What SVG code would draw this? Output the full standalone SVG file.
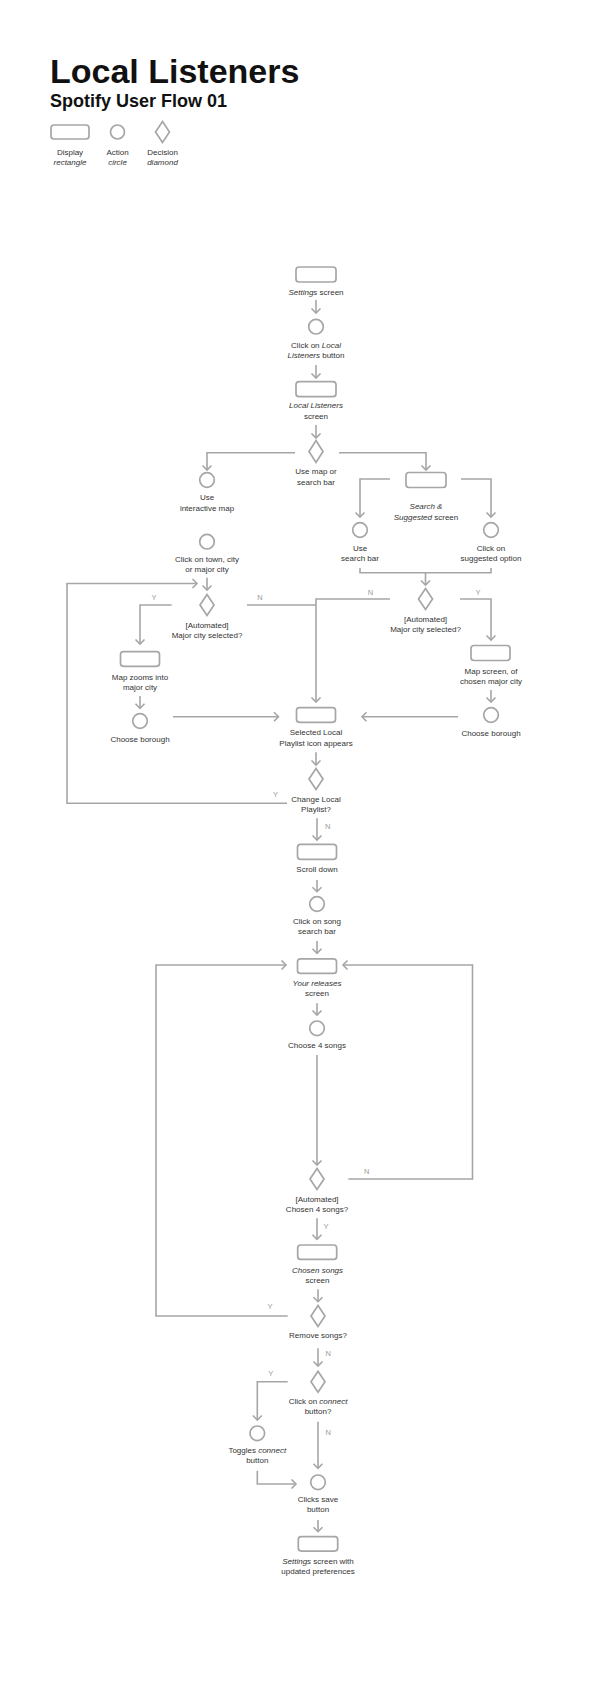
<svg xmlns="http://www.w3.org/2000/svg" width="594" height="1702" viewBox="0 0 594 1702">
<style>
text{font-family:"Liberation Sans",Arial,Helvetica,sans-serif;font-size:8px;fill:#333;text-anchor:middle}
.i{font-style:italic}
.lbl{font-size:7.5px;fill:#9a9a9a}
.title{font-size:34px;font-weight:bold;fill:#111;text-anchor:start}
.sub{font-size:18px;font-weight:bold;fill:#111;text-anchor:start}
.sh{fill:none;stroke:#a6a6a6;stroke-width:1.7}
.c{fill:none;stroke:#a6a6a6;stroke-width:1.6}
.a{marker-end:url(#ah)}
</style>
<defs>
<marker id="ah" viewBox="-6 -6 8 12" markerWidth="8" markerHeight="12" refX="0" refY="0" orient="auto" markerUnits="userSpaceOnUse">
<path d="M-4.5,-4.5 L0,0 L-4.5,4.5" fill="none" stroke="#a6a6a6" stroke-width="1.6"/>
</marker>
</defs>
<rect width="594" height="1702" fill="#fff"/>

<g id="header">
<text class="title" x="50" y="83">Local Listeners</text>
<text class="sub" x="50" y="107">Spotify User Flow 01</text>
</g>
<g id="legend">
<rect class="sh" x="51" y="125" width="38" height="14" rx="3"/>
<circle class="sh" cx="117.5" cy="132" r="7"/>
<polygon class="sh" points="162.5,121.5 169.5,132 162.5,142.5 155.5,132"/>
<text x="70" y="155">Display</text><text class="i" x="70" y="165">rectangle</text>
<text x="117.5" y="155">Action</text><text class="i" x="117.5" y="165">circle</text>
<text x="162.5" y="155">Decision</text><text class="i" x="162.5" y="165">diamond</text>
</g>

<g id="connectors">
<path class="c a" d="M316,300 V313"/>
<path class="c a" d="M316,365 V378"/>
<path class="c a" d="M316,425 V438"/>
<path class="c a" d="M295,452.7 H207 V470"/>
<path class="c a" d="M339,452.7 H426 V470"/>
<path class="c a" d="M390,479 H360 V517"/>
<path class="c a" d="M461,479 H491 V517"/>
<path class="c" d="M360,568 V572.7 H491 V568"/>
<path class="c a" d="M425.5,572.7 V585"/>
<path class="c a" d="M390,599 H316 V702"/>
<path class="c a" d="M460,599 H491 V640"/>
<path class="c a" d="M491,690 V702"/>
<path class="c a" d="M458,716.7 H362"/>
<path class="c a" d="M207,577.7 V590"/>
<path class="c a" d="M287,803.3 H67 V583.5 H197"/>
<path class="c a" d="M171.7,605 H140 V644"/>
<path class="c" d="M247,605 H316"/>
<path class="c a" d="M140,696 V708.3"/>
<path class="c a" d="M173,716.7 H278.5"/>
<path class="c a" d="M316,752.3 V765"/>
<path class="c a" d="M317,818.3 V840"/>
<path class="c a" d="M317,880 V891.7"/>
<path class="c a" d="M317,941 V953.3"/>
<path class="c a" d="M287.7,1316 H156 V965 H286"/>
<path class="c a" d="M348.3,1179 H472.5 V965 H343"/>
<path class="c a" d="M317,1003.3 V1015"/>
<path class="c a" d="M317,1055 V1165"/>
<path class="c a" d="M317,1218.3 V1239.3"/>
<path class="c a" d="M318,1289.3 V1301.7"/>
<path class="c a" d="M318,1348.3 V1366"/>
<path class="c a" d="M287.7,1381.7 H257.3 V1420"/>
<path class="c a" d="M318,1421.7 V1468.3"/>
<path class="c a" d="M257.3,1470.7 V1484 H296"/>
<path class="c a" d="M318,1520 V1531.7"/>
<text class="lbl" x="370.5" y="595">N</text>
<text class="lbl" x="478" y="595">Y</text>
<text class="lbl" x="154" y="600">Y</text>
<text class="lbl" x="260" y="600">N</text>
<text class="lbl" x="275.4" y="797.3">Y</text>
<text class="lbl" x="327.7" y="829.3">N</text>
<text class="lbl" x="366.7" y="1174.3">N</text>
<text class="lbl" x="326" y="1229.3">Y</text>
<text class="lbl" x="270" y="1309.3">Y</text>
<text class="lbl" x="328.3" y="1356">N</text>
<text class="lbl" x="270.7" y="1376">Y</text>
<text class="lbl" x="328.3" y="1435">N</text>
</g>

<g id="settings-screen">
<rect class="sh" x="296" y="267" width="40" height="15" rx="3"/>
<text x="316" y="295"><tspan class="i">Settings</tspan> screen</text>
</g>
<g id="click-local-listeners">
<circle class="sh" cx="316" cy="326.7" r="7.3"/>
<text x="316" y="347.7">Click on <tspan class="i">Local</tspan></text>
<text x="316" y="358"><tspan class="i">Listeners</tspan> button</text>
</g>
<g id="local-listeners-screen">
<rect class="sh" x="296" y="381.7" width="40" height="15" rx="3"/>
<text class="i" x="316" y="408.3">Local Listeners</text>
<text x="316" y="418.5">screen</text>
</g>
<g id="use-map-or-search">
<polygon class="sh" points="316,440.5 323,451.5 316,462.5 309,451.5"/>
<text x="316" y="474">Use map or</text>
<text x="316" y="484.5">search bar</text>
</g>
<g id="use-interactive-map">
<circle class="sh" cx="207" cy="480" r="7.3"/>
<text x="207" y="500">Use</text>
<text x="207" y="510.5">interactive map</text>
</g>
<g id="search-suggested-screen">
<rect class="sh" x="406" y="472.5" width="40" height="15" rx="3"/>
<text class="i" x="426" y="509.3">Search &amp;</text>
<text x="426" y="520"><tspan class="i">Suggested</tspan> screen</text>
</g>
<g id="use-search-bar">
<circle class="sh" cx="360" cy="530" r="7.3"/>
<text x="360" y="550.7">Use</text>
<text x="360" y="560.7">search bar</text>
</g>
<g id="click-suggested">
<circle class="sh" cx="491" cy="530" r="7.3"/>
<text x="491" y="550.7">Click on</text>
<text x="491" y="560.7">suggested option</text>
</g>
<g id="click-town">
<circle class="sh" cx="207" cy="541.7" r="7.3"/>
<text x="207" y="561.7">Click on town, city</text>
<text x="207" y="571.7">or major city</text>
</g>
<g id="major-city-left">
<polygon class="sh" points="207,594.5 214,605 207,615.5 200,605"/>
<text x="207" y="627.7">[Automated]</text>
<text x="207" y="637.7">Major city selected?</text>
</g>
<g id="major-city-right">
<polygon class="sh" points="425.5,588.5 432.5,599 425.5,609.5 418.5,599"/>
<text x="425.5" y="621.7">[Automated]</text>
<text x="425.5" y="631.7">Major city selected?</text>
</g>
<g id="map-zooms">
<rect class="sh" x="120.5" y="651.7" width="39" height="14.6" rx="3"/>
<text x="140" y="680">Map zooms into</text>
<text x="140" y="690">major city</text>
</g>
<g id="map-screen-chosen">
<rect class="sh" x="471" y="645.5" width="39" height="15" rx="3"/>
<text x="491" y="674">Map screen, of</text>
<text x="491" y="684">chosen major city</text>
</g>
<g id="borough-left">
<circle class="sh" cx="140" cy="721" r="7.3"/>
<text x="140" y="741.7">Choose borough</text>
</g>
<g id="borough-right">
<circle class="sh" cx="491" cy="715" r="7.3"/>
<text x="491" y="735.7">Choose borough</text>
</g>
<g id="selected-local-playlist">
<rect class="sh" x="296.5" y="707.7" width="39" height="14.6" rx="3"/>
<text x="316" y="735.3">Selected Local</text>
<text x="316" y="745.7">Playlist icon appears</text>
</g>
<g id="change-local-playlist">
<polygon class="sh" points="316,768.5 323,779 316,789.5 309,779"/>
<text x="316" y="801.7">Change Local</text>
<text x="316" y="811.7">Playlist?</text>
</g>
<g id="scroll-down">
<rect class="sh" x="297.5" y="844.3" width="39" height="15" rx="3"/>
<text x="317" y="872.3">Scroll down</text>
</g>
<g id="click-song-search">
<circle class="sh" cx="317" cy="904" r="7.3"/>
<text x="317" y="924.3">Click on song</text>
<text x="317" y="934.3">search bar</text>
</g>
<g id="your-releases">
<rect class="sh" x="297.5" y="958.8" width="39" height="14.6" rx="3"/>
<text class="i" x="317" y="986">Your releases</text>
<text x="317" y="996">screen</text>
</g>
<g id="choose-4-songs">
<circle class="sh" cx="317" cy="1028.3" r="7.3"/>
<text x="317" y="1048.3">Choose 4 songs</text>
</g>
<g id="chosen-4-songs">
<polygon class="sh" points="317,1168.5 324,1179 317,1189.5 310,1179"/>
<text x="317" y="1201.7">[Automated]</text>
<text x="317" y="1211.7">Chosen 4 songs?</text>
</g>
<g id="chosen-songs-screen">
<rect class="sh" x="297.7" y="1245" width="39" height="14.4" rx="3"/>
<text class="i" x="317.5" y="1272.7">Chosen songs</text>
<text x="317.5" y="1282.7">screen</text>
</g>
<g id="remove-songs">
<polygon class="sh" points="318,1305.5 325,1316 318,1326.5 311,1316"/>
<text x="318" y="1338.3">Remove songs?</text>
</g>
<g id="click-connect">
<polygon class="sh" points="318,1371.2 325,1381.7 318,1392.2 311,1381.7"/>
<text x="318" y="1404">Click on <tspan class="i">connect</tspan></text>
<text x="318" y="1414.3">button?</text>
</g>
<g id="toggles-connect">
<circle class="sh" cx="257.3" cy="1433.3" r="7.3"/>
<text x="257.3" y="1453.3">Toggles <tspan class="i">connect</tspan></text>
<text x="257.3" y="1463.3">button</text>
</g>
<g id="clicks-save">
<circle class="sh" cx="318" cy="1482.3" r="7.3"/>
<text x="318" y="1502.3">Clicks save</text>
<text x="318" y="1512.3">button</text>
</g>
<g id="settings-updated">
<rect class="sh" x="298.3" y="1536.7" width="39.4" height="14.4" rx="3"/>
<text x="318" y="1564.3"><tspan class="i">Settings</tspan> screen with</text>
<text x="318" y="1574.3">updated preferences</text>
</g>
</svg>
